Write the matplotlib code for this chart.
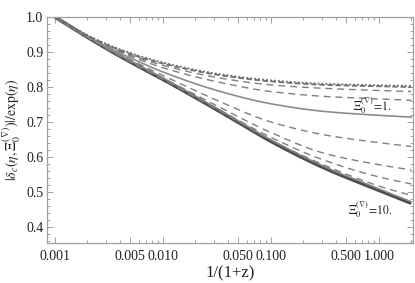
import numpy as np
import matplotlib
matplotlib.use("Agg")
import matplotlib.pyplot as plt
from matplotlib.ticker import FixedLocator, FixedFormatter, MultipleLocator

plt.rcParams['font.family'] = ['Liberation Serif', 'DejaVu Serif']
plt.rcParams['mathtext.fontset'] = 'stix'

# sample points in log10(1/(1+z))
log_a = [-3.0, -2.75, -2.5, -2.25, -2.0, -1.5, -1.0, -0.5, 0.0, 0.3]

curve_A = [1.0, 0.955, 0.918, 0.889, 0.867, 0.835, 0.816, 0.806, 0.802, 0.800]
curve_A2 = [1.0, 0.956, 0.920, 0.892, 0.870, 0.838, 0.819, 0.809, 0.805, 0.803]
curve_B = [1.0, 0.954, 0.916, 0.886, 0.862, 0.827, 0.806, 0.796, 0.790, 0.787]
curve_C = [1.0, 0.954, 0.914, 0.882, 0.855, 0.815, 0.787, 0.773, 0.766, 0.762]
curve_D = [1.0, 0.953, 0.912, 0.876, 0.843, 0.790, 0.752, 0.730, 0.719, 0.714]
curve_E = [1.0, 0.953, 0.909, 0.870, 0.833, 0.762, 0.700, 0.663, 0.641, 0.630]
curve_F = [1.0, 0.952, 0.907, 0.866, 0.826, 0.746, 0.670, 0.610, 0.578, 0.563]
curve_G = [1.0, 0.952, 0.906, 0.864, 0.823, 0.739, 0.656, 0.590, 0.543, 0.523]
curve_H = [1.0, 0.952, 0.906, 0.863, 0.822, 0.736, 0.648, 0.576, 0.517, 0.490]
curve_J = [1.0, 0.953, 0.908, 0.866, 0.826, 0.739, 0.649, 0.572, 0.509, 0.472]
curve_I = [1.0, 0.952, 0.906, 0.863, 0.822, 0.735, 0.645, 0.568, 0.505, 0.468]

xticks = [0.001, 0.005, 0.010, 0.050, 0.100, 0.500, 1.000]
xticklabels = ["0.001", "0.005", "0.010", "0.050", "0.100", "0.500", "1.000"]
yticks = [0.4, 0.5, 0.6, 0.7, 0.8, 0.9, 1.0]
yticklabels = ["0.4", "0.5", "0.6", "0.7", "0.8", "0.9", "1.0"]

fig = plt.figure(figsize=(4.15, 2.83), dpi=100)
ax = fig.add_axes([0.113, 0.141, 0.882, 0.799])

la = np.array(log_a)
xf = np.linspace(la[0], la[-1], 400)

def smooth(y):
    x = la; y = np.asarray(y, dtype=float)
    h = np.diff(x); d = np.diff(y) / h
    m = np.zeros_like(y)
    m[0] = d[0]; m[-1] = d[-1]
    for k in range(1, len(y) - 1):
        if d[k-1] * d[k] <= 0:
            m[k] = 0
        else:
            w1 = 2*h[k] + h[k-1]; w2 = h[k] + 2*h[k-1]
            m[k] = (w1 + w2) / (w1/d[k-1] + w2/d[k])
    out = np.empty_like(xf)
    for i, xv in enumerate(xf):
        k = min(np.searchsorted(x, xv, side='right') - 1, len(x) - 2)
        t = (xv - x[k]) / h[k]
        h00 = 2*t**3 - 3*t**2 + 1; h10 = t**3 - 2*t**2 + t
        h01 = -2*t**3 + 3*t**2; h11 = t**3 - t**2
        out[i] = h00*y[k] + h10*h[k]*m[k] + h01*y[k+1] + h11*h[k]*m[k+1]
    return out

X = 10 ** xf
dash = (0, (5, 3.5))
ax.plot(X, smooth(curve_I), color='#4d4d4d', lw=2.6, solid_capstyle='butt')
ax.plot(X, smooth(curve_J), color='#8c8c8c', lw=1.0)
for c in [curve_H, curve_G, curve_F, curve_E, curve_C, curve_B]:
    ax.plot(X, smooth(c), color='#7f7f7f', lw=1.0, linestyle=dash)
ax.plot(X, smooth(curve_D), color='#8c8c8c', lw=1.2)
ax.plot(X, smooth(curve_A), color='#6e6e6e', lw=1.3, linestyle=(0, (3, 1.5)))
ax.plot(X, smooth(curve_A2), color='#6e6e6e', lw=1.3, linestyle=(0, (1, 1.2)))

ax.set_xscale('log')
ax.set_xlim(10**-3.074, 10**0.315)
ax.set_ylim(0.354, 1.0)

ax.xaxis.set_major_locator(FixedLocator(xticks))
ax.xaxis.set_major_formatter(FixedFormatter(xticklabels))
minor_x = [m * 10.0**e for e in range(-3, 1) for m in range(2, 10)] + [2.0]
ax.xaxis.set_minor_locator(FixedLocator([v for v in minor_x if v not in xticks]))
ax.xaxis.set_minor_formatter(FixedFormatter([]))
ax.yaxis.set_major_locator(FixedLocator(yticks))
ax.yaxis.set_major_formatter(FixedFormatter(yticklabels))
ax.yaxis.set_minor_locator(MultipleLocator(0.02))

for s in ax.spines.values():
    s.set_color('#a0a0a0'); s.set_linewidth(0.9)
ax.tick_params(which='both', direction='in', top=True, right=True, color='#a0a0a0',
               labelsize=10, labelcolor='#222222', width=0.7)
ax.tick_params(which='major', length=4.5)
ax.tick_params(axis='x', which='major', pad=5)
ax.tick_params(axis='y', which='major', pad=2.5)
ax.tick_params(which='minor', length=2.5)

ax.set_xlabel('1/(1+z)', fontsize=12, color='#222222')
ax.xaxis.set_label_coords(0.5, -0.097)
ax.set_ylabel(r'$|\delta_c(\eta,\Xi_0^{(\nabla)})|/\mathrm{exp}(\eta)$', fontsize=10,
              color='#222222')
ax.yaxis.set_label_coords(-0.064, 0.5)

ax.text(10**-0.065, 0.746, r'$\Xi_0^{(\nabla)}\!=\!1.$', fontsize=8.5, color='#222222',
        ha='center', va='center')
ax.text(10**-0.083, 0.449, r'$\Xi_0^{(\nabla)}\!=\!10.$', fontsize=8.5, color='#222222',
        ha='center', va='center')

fig.savefig('out.png', dpi=100)
